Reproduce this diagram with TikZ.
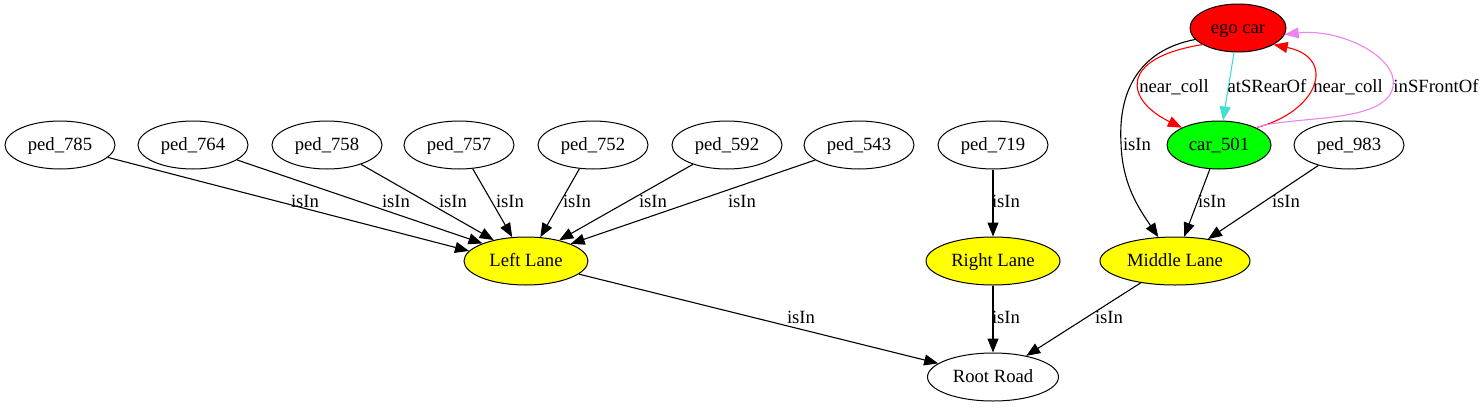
\documentclass[tikz,border=0pt]{standalone}
\usepackage{fontspec}
\setmainfont{Liberation Serif}
\usetikzlibrary{arrows.meta,shapes.geometric}
\definecolor{gvturq}{HTML}{40E0D0}
\definecolor{gvviolet}{HTML}{EE82EE}
\definecolor{gvred}{HTML}{FF0000}
\definecolor{gvgreen}{HTML}{00FF00}
\definecolor{gvyellow}{HTML}{FFFF00}
\begin{document}
\begin{tikzpicture}[x=1pt,y=-1pt,
  ent/.style={ellipse, draw=black, line width=1pt, inner sep=0pt, minimum height=48pt,
    font=\fontsize{18.67}{22}\selectfont, text height=13pt, text depth=2pt},
  lane/.style={ent, fill=gvyellow},
  lbl/.style={inner sep=0pt, font=\fontsize{18.67}{22}\selectfont, text height=13pt, text depth=2pt},
  rel/.style={line width=1.1pt, draw=black, -{Triangle[length=14pt,width=11pt]}},
]
\useasboundingbox (0,0) rectangle (1483,407);
% nodes
\node[ent, fill=gvred, minimum width=96pt] (ego) at (1238,28) {ego car};
\node[ent, minimum width=110pt] (p785) at (60,145) {ped\_785};
\node[ent, minimum width=110pt] (p764) at (193,145) {ped\_764};
\node[ent, minimum width=110pt] (p758) at (327,145) {ped\_758};
\node[ent, minimum width=110pt] (p757) at (459,145) {ped\_757};
\node[ent, minimum width=110pt] (p752) at (593,145) {ped\_752};
\node[ent, minimum width=110pt] (p592) at (727,145) {ped\_592};
\node[ent, minimum width=110pt] (p543) at (859,145) {ped\_543};
\node[ent, minimum width=110pt] (p719) at (993,145) {ped\_719};
\node[ent, fill=gvgreen, minimum width=104pt] (car) at (1219,145) {car\_501};
\node[ent, minimum width=110pt] (p983) at (1349,145) {ped\_983};
\node[lane, minimum width=124pt] (LL) at (526,261) {Left Lane};
\node[lane, minimum width=134pt] (RL) at (993,261) {Right Lane};
\node[lane, minimum width=150pt] (ML) at (1175,261) {Middle Lane};
\node[ent, minimum width=131pt] (RR) at (993,377) {Root Road};
% edges to Left Lane
\draw[rel] (p785) -- (LL.170);
\draw[rel] (p764) -- (LL.158);
\draw[rel] (p758) -- (LL.147);
\draw[rel] (p757) -- (LL.120);
\draw[rel] (p752) -- (LL.59);
\draw[rel] (p592) -- (LL.32);
\draw[rel] (p543) -- (LL.21);
\draw[rel] (p719) -- (RL);
\draw[rel] (car) -- (ML);
\draw[rel] (p983) -- (ML);
\draw[rel] (LL) -- (RR);
\draw[rel] (RL) -- (RR);
\draw[rel] (ML) -- (RR);
% ego car relations
\draw[rel] (ego.195) .. controls (1140,50) and (1118,90) .. (1121,143)
  .. controls (1122,185) and (1140,210) .. (ML.125);
\draw[rel, draw=gvred, -{Triangle[length=14pt,width=11pt,fill=gvred]}] (ego.205) .. controls (1118,58) and (1125,100) .. (car.155);
\draw[rel, draw=gvturq] (ego) -- (car);
\draw[rel, draw=gvred] (car.25) .. controls (1318,112) and (1338,58) .. (ego.-25);
\draw[rel, draw=gvviolet] (car.25) .. controls (1290,115) and (1385,125) .. (1393,87)
  .. controls (1399,57) and (1340,28) .. (ego.-8);
% labels
\node[lbl] (l1) at (305,202) {isIn};
\node[lbl] (l2) at (396,202) {isIn};
\node[lbl] (l3) at (453,202) {isIn};
\node[lbl] (l4) at (510,202) {isIn};
\node[lbl] (l5) at (577,202) {isIn};
\node[lbl] (l6) at (653,202) {isIn};
\node[lbl] (l7) at (742,202) {isIn};
\node[lbl] (l8) at (1006,202) {isIn};
\node[lbl] (l9) at (1212,202) {isIn};
\node[lbl] (l10) at (1286,202) {isIn};
\node[lbl] (l11) at (1137,145) {isIn};
\node[lbl] (l12) at (1174,87) {near\_coll};
\node[lbl] (l13) at (1267,87) {atSRearOf};
\node[lbl] (l14) at (1348,87) {near\_coll};
\node[lbl] (l15) at (1436,87) {inSFrontOf};
\node[lbl] (l16) at (801,318) {isIn};
\node[lbl] (l17) at (1006,318) {isIn};
\node[lbl] (l18) at (1109,318) {isIn};
\end{tikzpicture}
\end{document}
